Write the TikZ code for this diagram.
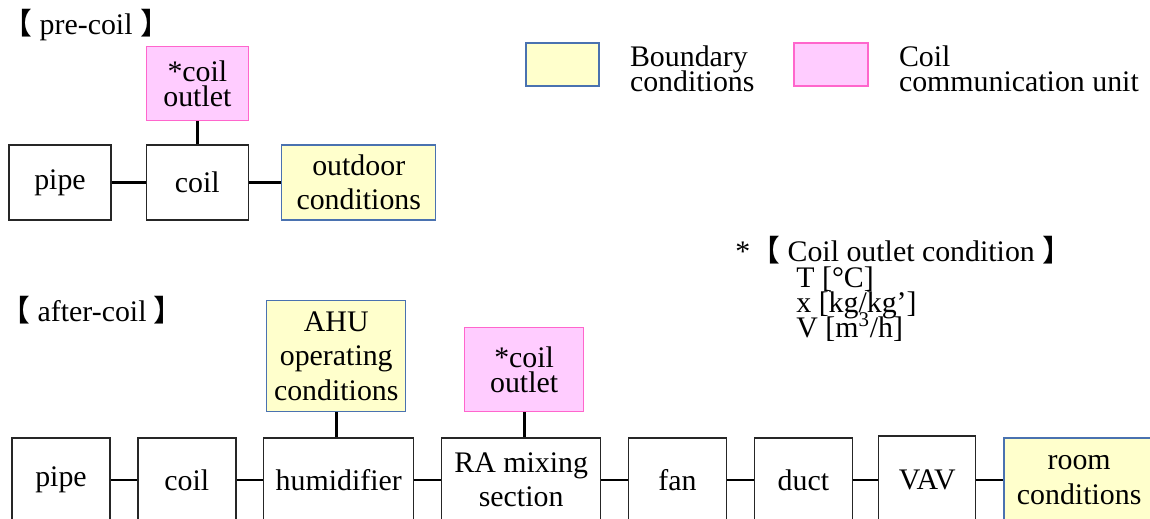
\documentclass[tikz,border=0pt]{standalone}
\usepackage{fontspec}
\setmainfont{Liberation Serif}
\newfontfamily\cjk{Noto Sans CJK JP}
\usepackage{tikz}
\usetikzlibrary{positioning}
\definecolor{hvacEdge}{HTML}{262626}
\definecolor{hvacBndFill}{HTML}{FFFFCC}
\definecolor{hvacBndEdge}{HTML}{4A72B0}
\definecolor{hvacCoilFill}{HTML}{FFCCFF}
\definecolor{hvacCoilEdge}{HTML}{FF66CC}
\newcommand\loosetxt{\fontsize{17}{19.5}\selectfont}
\newcommand\tighttxt{\fontsize{17}{14.4}\selectfont\lineskiplimit=-20pt}
\newcommand\bkt[1]{{\cjk #1}}
\tikzset{
  unitbox/.style={rectangle, draw=hvacEdge, line width=0.8pt, fill=white,
    align=center, inner sep=1pt, minimum width=1.96cm, minimum height=1.68cm, font=\loosetxt},
  bndbox/.style={unitbox, draw=hvacBndEdge, fill=hvacBndFill},
  coilbox/.style={unitbox, draw=hvacCoilEdge, fill=hvacCoilFill, font=\tighttxt},
  link/.style={draw=black, line width=1.7pt},
  tag/.style={inner sep=0pt, font=\loosetxt},
  legtxt/.style={inner sep=0pt, align=left, font=\tighttxt}
}
\begin{document}
\begin{tikzpicture}[x=0.02cm, y=-0.02cm, node distance=0.53cm]
\useasboundingbox (0,0) rectangle (1150,519);
\clip (0,0) rectangle (1150,519);
% pre-coil
\node[tag, anchor=west] (precap) at (2,25) {\bkt{【} pre-coil \bkt{】}};
\node[unitbox, minimum width=2.04cm, minimum height=1.5cm] (pipeA) at (60,182.5) {pipe};
\node[unitbox, minimum width=2.04cm, minimum height=1.5cm, right=0.68cm of pipeA] (coilA) {coil};
\node[bndbox, minimum width=3.08cm, minimum height=1.5cm, right=0.64cm of coilA] (outdoor) {outdoor\\conditions};
\node[coilbox, minimum width=2.04cm, minimum height=1.48cm, above=0.46cm of coilA] (outletA) {*coil\\outlet};

\draw[link] (pipeA) -- (coilA);
\draw[link] (coilA) -- (outdoor);
\draw[link] (coilA) -- (outletA);

% legend
\node[bndbox, minimum width=1.46cm, minimum height=0.86cm] (legBnd) at (562.5,64.5) {};
\node[legtxt, right=0.6cm of legBnd, yshift=-0.08cm] (legBndTxt) {Boundary\\conditions};
\node[coilbox, minimum width=1.48cm, minimum height=0.86cm] (legCoil) at (831,64.5) {};
\node[legtxt, right=0.6cm of legCoil, yshift=-0.08cm] (legCoilTxt) {Coil\\communication unit};

% coil outlet note
\node[tag, anchor=west] (notehd) at (735,250) {*\bkt{【} Coil outlet condition \bkt{】}};
\node[legtxt, anchor=north west] (notevars) at (796,266) {T [°C]\\x [kg/kg’]\\V [m\textsuperscript{3}/h]};

% after-coil
\node[tag, anchor=west] (aftercap) at (0,310) {\bkt{【} after-coil \bkt{】}};
\node[unitbox] (pipeB) at (61,480) {pipe};
\node[unitbox, right=of pipeB] (coilB) {coil};
\node[unitbox, minimum width=3.0cm, right=of coilB] (humid) {humidifier};
\node[unitbox, minimum width=3.18cm, right=of humid] (mixing) {RA mixing\\section};
\node[unitbox, right=of mixing] (fan) {fan};
\node[unitbox, right=of fan] (duct) {duct};
\node[unitbox, minimum width=1.94cm, minimum height=1.76cm, right=0.5cm of duct] (vav) {VAV};
\node[bndbox, minimum width=3.0cm, right=0.54cm of vav] (room) {room\\conditions};
\node[bndbox, minimum width=2.78cm, minimum height=2.22cm, above=0.5cm of humid, xshift=-0.05cm] (ahu) {AHU\\operating\\conditions};
\node[coilbox, minimum width=2.38cm, minimum height=1.68cm, above=0.5cm of mixing, xshift=0.06cm] (outletB) {*coil\\outlet};

\draw[link] (pipeB) -- (coilB);
\draw[link] (coilB) -- (humid);
\draw[link] (humid) -- (mixing);
\draw[link] (mixing) -- (fan);
\draw[link] (fan) -- (duct);
\draw[link] (duct) -- (vav);
\draw[link] (vav) -- (room);
\draw[link] (ahu) -- (ahu |- humid.north);
\draw[link] (outletB) -- (outletB |- mixing.north);
\end{tikzpicture}
\end{document}
